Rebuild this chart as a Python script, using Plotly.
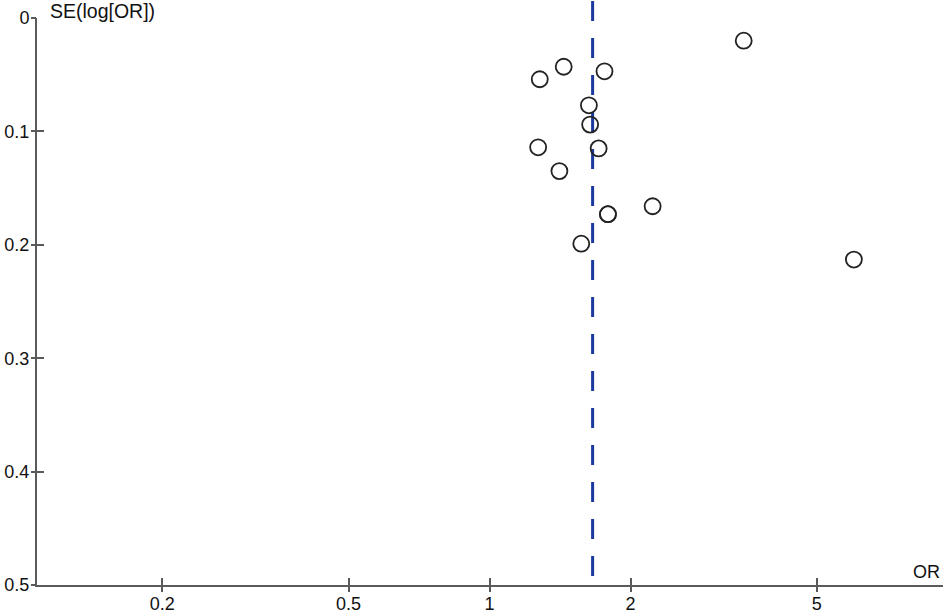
import numpy as np
import plotly.graph_objects as go

# Study odds ratios and standard errors of log(OR)
or_values = [3.49, 1.28, 1.44, 1.76, 1.63, 1.64, 1.27, 1.71, 1.41, 1.79, 1.79, 2.23, 1.57, 6.00]
se_values = [0.020, 0.054, 0.043, 0.047, 0.077, 0.094, 0.114, 0.115, 0.135, 0.173, 0.173, 0.166, 0.199, 0.213]
pooled_or = 1.66

x_ticks = [0.2, 0.5, 1, 2, 5]
x_tick_labels = ["0.2", "0.5", "1", "2", "5"]
y_ticks = [0, 0.1, 0.2, 0.3, 0.4, 0.5]
y_tick_labels = ["0", "0.1", "0.2", "0.3", "0.4", "0.5"]

x_range = [np.log10(0.108), np.log10(9.3)]
y_range = [0.5, 0]

axis_color = "#5a5a5a"
font = dict(family="Liberation Sans, Arial, sans-serif", size=18, color="#111111")
title_font = dict(family="Liberation Sans, Arial, sans-serif", size=19.5, color="#111111")

fig = go.Figure()

fig.add_trace(go.Scatter(
    x=or_values, y=se_values, mode="markers",
    marker=dict(symbol="circle-open", size=16, color="#222222", line=dict(width=1.8, color="#222222")),
    showlegend=False,
))

# pooled estimate (dashed vertical line)
fig.add_shape(type="line", xref="x", yref="paper", x0=pooled_or, x1=pooled_or, y0=1.03, y1=0,
              line=dict(color="#1b3a9e", width=3, dash="20px,17px"), layer="below")

fig.update_layout(
    xaxis=dict(
        type="log", range=x_range, tickvals=x_ticks, ticktext=x_tick_labels,
        showline=True, linecolor=axis_color, linewidth=2,
        ticks="inside", ticklen=7, tickwidth=2, tickcolor=axis_color,
        showgrid=False, zeroline=False, tickfont=font, automargin=False,
        ticklabelstandoff=1,
    ),
    yaxis=dict(
        range=y_range, tickvals=y_ticks, ticktext=y_tick_labels,
        showline=True, linecolor=axis_color, linewidth=2,
        ticks="inside", ticklen=7, tickwidth=2, tickcolor=axis_color,
        showgrid=False, zeroline=False, tickfont=font, automargin=False,
        ticklabelstandoff=2,
    ),
    # overlay axes to give the ticks their crossing look
    xaxis2=dict(
        type="log", range=x_range, tickvals=x_ticks, overlaying="x", anchor="y",
        side="bottom", ticks="outside", ticklen=6, tickwidth=2, tickcolor=axis_color,
        showticklabels=False, showgrid=False, zeroline=False, showline=False, automargin=False,
    ),
    yaxis2=dict(
        range=y_range, tickvals=y_ticks, overlaying="y", anchor="x",
        side="left", ticks="outside", ticklen=5, tickwidth=2, tickcolor=axis_color,
        showticklabels=False, showgrid=False, zeroline=False, showline=False, automargin=False,
    ),
)

# dummy trace to activate the overlay axes
fig.add_trace(go.Scatter(x=[pooled_or], y=[0.5], xaxis="x2", yaxis="y2", mode="markers",
                         marker=dict(opacity=0), hoverinfo="skip", showlegend=False))

fig.add_annotation(text="SE(log[OR])", xref="paper", yref="paper", x=0.0125, y=1.0,
                   xanchor="left", yanchor="middle", yshift=7, showarrow=False, font=title_font)
fig.add_annotation(text="OR", xref="paper", yref="paper", x=0.999, y=0.0,
                   xanchor="right", yanchor="bottom", yshift=1, showarrow=False, font=font)

fig.update_layout(
    width=945, height=613,
    margin=dict(l=37, r=2, t=18, b=28, autoexpand=False),
    plot_bgcolor="white", paper_bgcolor="white",
    font=font,
)

fig.write_html("out.html", config={"displayModeBar": False},
               post_script="document.body.style.margin='0';document.body.style.overflow='hidden';")
